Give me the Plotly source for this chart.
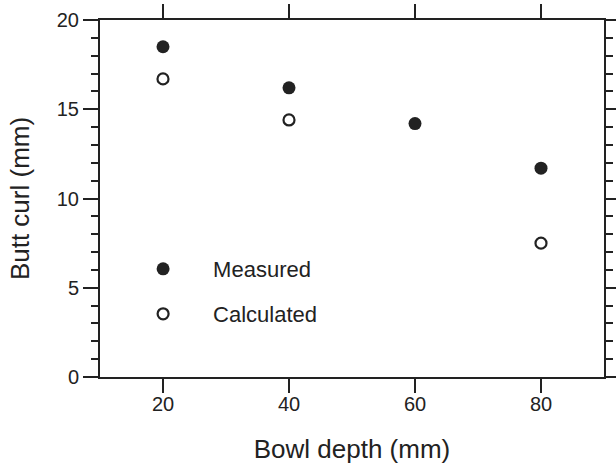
import plotly.graph_objects as go

bowl_depth_measured = [20, 40, 60, 80]
butt_curl_measured = [18.5, 16.2, 14.2, 11.7]
bowl_depth_calculated = [20, 40, 80]
butt_curl_calculated = [16.7, 14.4, 7.5]
x_ticks = [20, 40, 60, 80]
y_ticks = [0, 5, 10, 15, 20]

INK = "#222222"
FONT = "Liberation Sans, Arial, sans-serif"

fig = go.Figure()
fig.add_trace(go.Scatter(
    x=bowl_depth_measured, y=butt_curl_measured, mode="markers", name="Measured",
    marker=dict(symbol="circle", size=13, color=INK), legend="legend", cliponaxis=False))
fig.add_trace(go.Scatter(
    x=bowl_depth_calculated, y=butt_curl_calculated, mode="markers", name="Calculated",
    marker=dict(symbol="circle-open", size=11, color=INK, line=dict(width=2.2, color=INK)),
    legend="legend2", cliponaxis=False))

axis_common = dict(showgrid=False, zeroline=False, showline=True, linecolor=INK, linewidth=2,
                   mirror="ticks", ticks="outside", tickcolor=INK, tickwidth=1.5, automargin=False,
                   tickfont=dict(family=FONT, size=20, color=INK))

fig.update_xaxes(range=[10, 90], tickvals=x_ticks, ticklen=14, ticklabelstandoff=-6,
                 title=dict(text="Bowl depth (mm)", font=dict(family=FONT, size=26, color=INK), standoff=26),
                 **axis_common)
fig.update_yaxes(range=[0, 20], tickvals=y_ticks, ticklen=15, ticklabelstandoff=0,
                 minor=dict(dtick=1, ticks="outside", ticklen=7, tickcolor=INK, tickwidth=1.5),
                 title=dict(text="Butt curl (mm)", font=dict(family=FONT, size=26, color=INK), standoff=20),
                 **axis_common)

legend_common = dict(xanchor="left", yanchor="middle", bgcolor="rgba(0,0,0,0)", borderwidth=0,
                     font=dict(family=FONT, size=22, color=INK), itemwidth=90)
fig.update_layout(
    width=616, height=464,
    margin=dict(l=100, r=12, t=20, b=87),
    paper_bgcolor="white", plot_bgcolor="white",
    legend=dict(x=0.026, y=0.3025, **legend_common),
    legend2=dict(x=0.026, y=0.1765, **legend_common),
    showlegend=True,
)

fig.write_html("out.html")
